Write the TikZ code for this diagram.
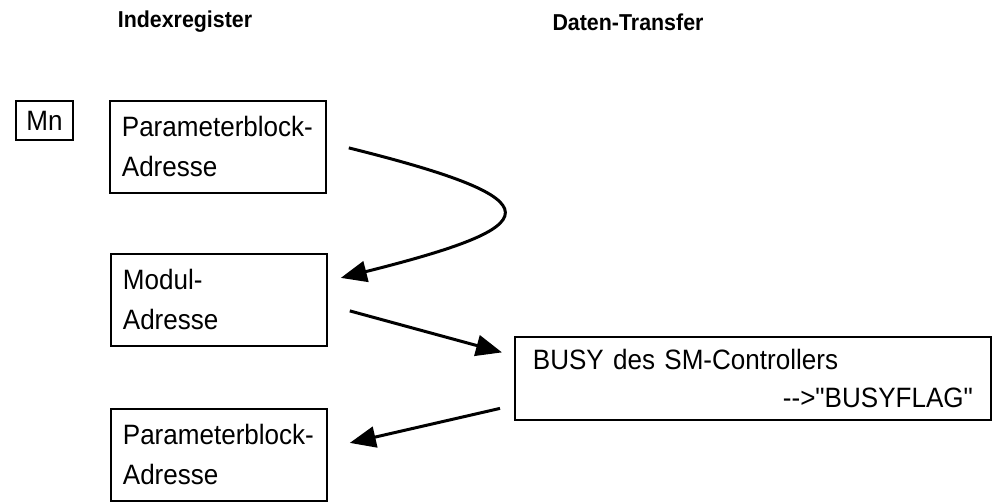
\documentclass[tikz,border=0pt]{standalone}
\usepackage{fontspec}
\setmainfont{Liberation Sans}[Ligatures=TeXOff, FakeStretch=0.93]
\usetikzlibrary{arrows.meta}
\begin{document}
\begin{tikzpicture}[x=1pt,y=-1pt,
  regbox/.style={draw, line width=1.8pt, anchor=north west, align=left,
    minimum width=216pt, minimum height=92pt, text width=192pt, inner xsep=12pt,
    font=\fontsize{28}{40}\selectfont},
  title/.style={font=\bfseries\fontsize{23}{27}\selectfont},
  conn/.style={line width=3pt, -{Triangle[length=26pt,width=21pt]}}]
\useasboundingbox (0,0) rectangle (995,502);

% column headings
\node[title] (hidx) at (185,22) {Indexregister};
\node[title] (hdat) at (628,22) {Daten-Transfer};

% register label
\node[draw, line width=1.8pt, anchor=north west, minimum width=57pt, minimum height=39pt,
  inner sep=0pt, font=\fontsize{28}{30}\selectfont] (mn) at (15,100) {Mn};

% index registers
\node[regbox] (pb1) at (109,100) {Parameterblock-\\Adresse};
\node[regbox] (mod) at (110,253) {Modul-\\Adresse};
\node[regbox] (pb2) at (110,408) {Parameterblock-\\Adresse};

% data transfer box
\node[draw, line width=1.8pt, anchor=north west, align=left,
  minimum width=476pt, minimum height=83pt, text width=440pt, inner xsep=18pt,
  font=\fontsize{28}{38}\selectfont] (busy) at (514,336)
  {BUSY des SM-Controllers\\\hspace*{\fill}-->"BUSYFLAG"\hspace*{12pt}};

% arrow end points
\coordinate (a1s) at ([xshift=22pt,yshift=-1pt]pb1.east);
\coordinate (a1e) at ([xshift=13pt,yshift=22pt]mod.east);
\coordinate (a2s) at ([xshift=22pt,yshift=-11pt]mod.east);
\coordinate (a2e) at ([xshift=-12pt,yshift=26pt]busy.west);
\coordinate (a3s) at ([xshift=-14pt,yshift=-30pt]busy.west);
\coordinate (a3e) at ([xshift=22pt,yshift=12pt]pb2.east);

\draw[conn] (a1s) .. controls ([xshift=213pt,yshift=-53pt]a1s) and ([xshift=207pt,yshift=52pt]a1e) .. (a1e);
\draw[conn] (a2s) -- (a2e);
\draw[conn] (a3s) -- (a3e);
\end{tikzpicture}
\end{document}
